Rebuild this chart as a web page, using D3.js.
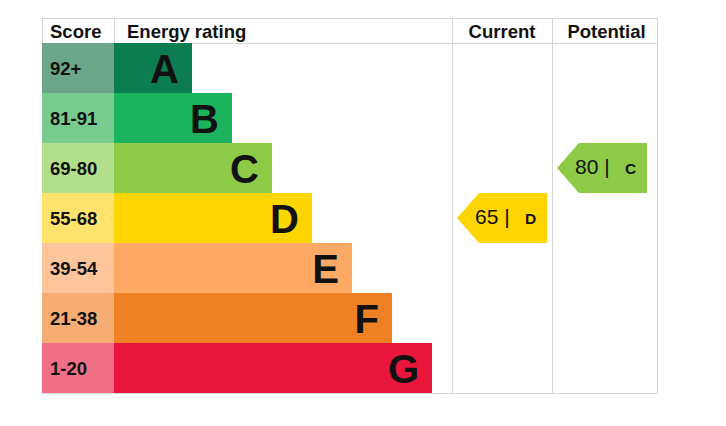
<!DOCTYPE html>
<html>
<head>
<meta charset="utf-8">
<script src="https://cdn.jsdelivr.net/npm/d3@7"></script>
<style>
  body { margin: 0; background: #fff; }
  text { font-family: "Liberation Sans", Arial, sans-serif; }
</style>
</head>
<body>
<div id="chart"></div>
<script>
// data
const ratings = ["A", "B", "C", "D", "E", "F", "G"];
const scoreRanges = ["92+", "81-91", "69-80", "55-68", "39-54", "21-38", "1-20"];
const lowerBounds = [92, 81, 69, 55, 39, 21, 1];
const barSteps = [1, 2, 3, 4, 5, 6, 7];
const mainColors = ["#0b7d50", "#1bb35b", "#8dcb46", "#ffd500", "#fcaa65", "#ef8125", "#e9173c"];
const lightColors = ["#6ba68a", "#78cb8f", "#b3de8c", "#ffe36c", "#fdc59b", "#f6ac72", "#f16f87"];
const headers = ["Score", "Energy rating", "Current", "Potential"];
const currentScore = 65;
const potentialScore = 80;

const W = 726, H = 426;
const tLeft = 42, tTop = 18, headH = 25, rowH = 50;
const colScore = 114, colCurrent = 452, colPotential = 552, tRight = 657;
const tBottom = tTop + headH + rowH * ratings.length;

const svg = d3.select("#chart").append("svg")
  .attr("width", W).attr("height", H);

const y = d3.scaleBand()
  .domain(ratings)
  .range([tTop + headH, tBottom])
  .padding(0);

const x = d3.scaleLinear()
  .domain([1, 7])
  .range([192, 432]);

function bandOf(score) {
  const i = lowerBounds.findIndex(b => score >= b);
  return ratings[i];
}

// grid lines
const grid = svg.append("g").attr("stroke", "#d4d4d4").attr("stroke-width", 1);
grid.append("line").attr("x1", tLeft).attr("x2", tRight).attr("y1", tTop + 0.5).attr("y2", tTop + 0.5);
grid.append("line").attr("x1", tLeft).attr("x2", tRight).attr("y1", tTop + headH + 0.5).attr("y2", tTop + headH + 0.5);
grid.append("line").attr("x1", tLeft).attr("x2", tRight).attr("y1", tBottom + 0.5).attr("y2", tBottom + 0.5);
[tLeft, colScore, colCurrent, colPotential, tRight].forEach(cx => {
  grid.append("line")
    .attr("x1", cx + 0.5).attr("x2", cx + 0.5)
    .attr("y1", tTop).attr("y2", cx === colScore ? tTop + headH : tBottom);
});

// headers
const headX = [tLeft + 8, colScore + 13, (colCurrent + colPotential) / 2, (colPotential + tRight) / 2 + 2];
svg.selectAll(".head")
  .data(headers)
  .join("text")
  .attr("class", "head")
  .attr("x", (d, i) => headX[i])
  .attr("y", tTop + 20)
  .attr("text-anchor", (d, i) => i >= 2 ? "middle" : "start")
  .attr("font-size", 18.5)
  .attr("font-weight", "bold")
  .attr("fill", "#111")
  .text(d => d);

// score cells
svg.selectAll(".scoreCell")
  .data(ratings)
  .join("rect")
  .attr("class", "scoreCell")
  .attr("x", tLeft)
  .attr("y", d => y(d))
  .attr("width", colScore - tLeft)
  .attr("height", y.bandwidth())
  .attr("fill", (d, i) => lightColors[i]);

svg.selectAll(".scoreText")
  .data(scoreRanges)
  .join("text")
  .attr("class", "scoreText")
  .attr("x", tLeft + 8)
  .attr("y", (d, i) => y(ratings[i]) + y.bandwidth() / 2 + 6.5)
  .attr("font-size", 18.5)
  .attr("font-weight", "bold")
  .attr("fill", "#111")
  .text(d => d);

// rating bars
svg.selectAll(".bar")
  .data(ratings)
  .join("rect")
  .attr("class", "bar")
  .attr("x", colScore)
  .attr("y", d => y(d))
  .attr("width", (d, i) => x(barSteps[i]) - colScore)
  .attr("height", y.bandwidth())
  .attr("fill", (d, i) => mainColors[i]);

svg.selectAll(".barText")
  .data(ratings)
  .join("text")
  .attr("class", "barText")
  .attr("x", (d, i) => x(barSteps[i]) - 13)
  .attr("y", d => y(d) + y.bandwidth() / 2 + 14.5)
  .attr("text-anchor", "end")
  .attr("font-size", 40)
  .attr("font-weight", "bold")
  .attr("fill", "#111")
  .text(d => d);

// arrows
function arrow(score, colLeft) {
  const band = bandOf(score);
  const i = ratings.indexOf(band);
  const y0 = y(band), y1 = y0 + y.bandwidth(), ym = (y0 + y1) / 2;
  const tip = colLeft + 5, body = colLeft + 27, end = colLeft + 95;
  const g = svg.append("g");
  g.append("path")
    .attr("d", `M${tip},${ym}L${body},${y0}L${end},${y0}L${end},${y1}L${body},${y1}Z`)
    .attr("fill", mainColors[i]);
  g.append("text")
    .attr("x", colLeft + 23)
    .attr("y", ym + 6)
    .attr("font-size", 21)
    .attr("fill", "#111")
    .text(score + " |");
  g.append("text")
    .attr("x", colLeft + 73)
    .attr("y", ym + 6)
    .attr("font-size", 15.5)
    .attr("font-weight", "bold")
    .attr("fill", "#111")
    .text(band);
}
arrow(currentScore, colCurrent);
arrow(potentialScore, colPotential);
</script>
</body>
</html>
